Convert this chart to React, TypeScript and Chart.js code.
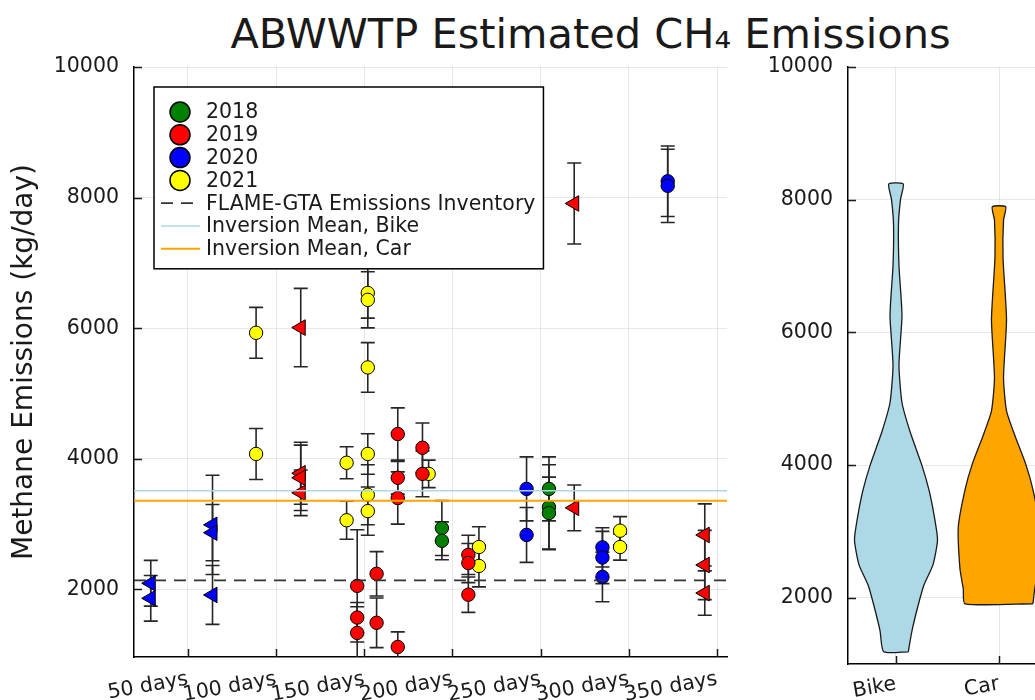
import React, { useEffect, useRef } from "react";
import { Chart, registerables } from "chart.js";

Chart.register(...registerables);

const FONT = "'DejaVu Sans', 'Liberation Sans', sans-serif";

// ---------- axes ----------
const xTickDays = [50, 100, 150, 200, 250, 300, 350];
const yTickValues = [2000, 4000, 6000, 8000, 10000];
const xLimits = [19.5, 355.6];
const yLimitsLeft = [966, 10000];
const yLimitsRight = [1000, 10000];

// ---------- scatter series (day of year, kg/day, error) ----------
const days2018 = [194, 194, 254.7, 254.7, 254.7];
const vals2018 = [2940, 2745, 3540, 3260, 3170];
const errs2018 = [420, 290, 490, 650, 550];

const days2019 = [146, 146, 146, 157, 157, 169, 169, 169, 169, 183, 183, 209, 209, 209];
const vals2019 = [2055, 1570, 1335, 2240, 1490, 4380, 3710, 3400, 1120, 4170, 3770, 2530, 2405, 1920];
const errs2019 = [860, 230, 400, 340, 380, 400, 250, 400, 230, 380, 350, 300, 300, 270];

const days2019Tri = [114, 114, 114, 114, 269, 269, 343, 343, 343];
const vals2019Tri = [6010, 3780, 3710, 3480, 7910, 3250, 2835, 2375, 1945];
const errs2019Tri = [600, 475, 500, 350, 620, 350, 475, 530, 340];

const days2020 = [242, 242, 285, 285, 285, 322, 322];
const vals2020 = [3540, 2835, 2645, 2490, 2192, 8250, 8180];
const errs2020 = [490, 420, 300, 400, 380, 540, 560];

const days2020Tri = [29, 29, 64, 64, 64];
const vals2020Tri = [2095, 1865, 2990, 2870, 1916];
const errs2020Tri = [350, 350, 760, 430, 450];

const days2021 = [88.7, 88.7, 140, 140, 152, 152, 152, 152, 152, 152, 186.5, 215, 215, 295, 295];
const vals2021 = [5930, 4075, 3940, 3060, 6540, 6435, 5400, 4075, 3450, 3200, 3770, 2650, 2360, 2900, 2650];
const errs2021 = [390, 390, 245, 290, 385, 430, 380, 310, 460, 370, 210, 310, 320, 215, 200];

// ---------- reference lines ----------
const flameInventory = 2140;
const inversionMeanBike = 3510;
const inversionMeanCar = 3360;

// ---------- violins ----------
const violinCategories = ["Bike", "Car"];
const bikeLevels = [1184, 1500, 1878, 2194, 2495, 2872, 3249, 3625, 4002, 4505, 4942, 5505, 6255, 7005, 7634, 8005, 8237];
const bikeWidths = [0.119, 0.155, 0.214, 0.272, 0.359, 0.403, 0.369, 0.32, 0.25, 0.136, 0.058, 0.029, 0.058, 0.029, 0.024, 0.044, 0.07];
const carLevels = [1908, 2134, 2435, 3068, 3625, 4002, 4440, 4816, 5316, 6192, 7129, 7694, 7893];
const carWidths = [0.33, 0.347, 0.379, 0.395, 0.33, 0.262, 0.155, 0.073, 0.044, 0.073, 0.039, 0.044, 0.065];

const pts = (xs: number[], ys: number[]) => xs.map((x, i) => ({ x, y: ys[i] }));

function violinOutline(center: number, levels: number[], widths: number[]) {
  const right = levels.map((v, i) => ({ x: center + widths[i], y: v }));
  const left = levels.map((v, i) => ({ x: center - widths[i], y: v })).reverse();
  return [...right, ...left, right[0]];
}

const errorBarPlugin = {
  id: "errorBars",
  beforeDatasetsDraw(chart: any) {
    const { ctx, chartArea, scales } = chart;
    const x = scales.x;
    const y = scales.y;
    ctx.save();
    ctx.beginPath();
    ctx.rect(chartArea.left, chartArea.top, chartArea.right - chartArea.left, chartArea.bottom - chartArea.top);
    ctx.clip();
    ctx.strokeStyle = "#262626";
    ctx.lineWidth = 1.6;
    chart.data.datasets.forEach((ds: any) => {
      if (!ds.errors) return;
      ds.data.forEach((p: any, i: number) => {
        const e = ds.errors[i];
        const px = x.getPixelForValue(p.x);
        const top = y.getPixelForValue(p.y + e);
        const bot = y.getPixelForValue(p.y - e);
        ctx.beginPath();
        ctx.moveTo(px, top);
        ctx.lineTo(px, bot);
        ctx.moveTo(px - 7, top);
        ctx.lineTo(px + 7, top);
        ctx.moveTo(px - 7, bot);
        ctx.lineTo(px + 7, bot);
        ctx.stroke();
      });
    });
    ctx.restore();
  },
};

const inwardTicksPlugin = {
  id: "inwardTicks",
  afterDatasetsDraw(chart: any) {
    const { ctx, chartArea, scales } = chart;
    ctx.save();
    ctx.strokeStyle = "#1a1a1a";
    ctx.lineWidth = 1.5;
    ctx.beginPath();
    scales.x.ticks.forEach((t: any) => {
      const px = Math.round(scales.x.getPixelForValue(t.value)) + 0.5;
      ctx.moveTo(px, chartArea.bottom);
      ctx.lineTo(px, chartArea.bottom - 8);
    });
    scales.y.ticks.forEach((t: any) => {
      const py = Math.round(scales.y.getPixelForValue(t.value)) + 0.5;
      ctx.moveTo(chartArea.left, py);
      ctx.lineTo(chartArea.left + 8, py);
    });
    ctx.stroke();
    ctx.restore();
  },
};

const legendPlugin = {
  id: "boxLegend",
  afterDraw(chart: any) {
    const { ctx, chartArea } = chart;
    const items = chart.data.datasets.filter((d: any) => d.inLegend);
    items.sort((a: any, b: any) => a.legendRank - b.legendRank);
    ctx.save();
    ctx.font = `20.5px ${FONT}`;
    const maxW = Math.max(...items.map((d: any) => ctx.measureText(d.label).width));
    const left = chartArea.left + 20;
    const top = chartArea.top + 20;
    const rowH = 22.8;
    const w = 52 + maxW + 8;
    const h = 25 + (items.length - 1) * rowH + 20;
    ctx.fillStyle = "#ffffff";
    ctx.fillRect(left, top, w, h);
    ctx.strokeStyle = "#000";
    ctx.lineWidth = 1.5;
    ctx.strokeRect(left, top, w, h);
    items.forEach((d: any, i: number) => {
      const cy = top + 25 + i * rowH;
      if (d.showLine) {
        ctx.beginPath();
        ctx.strokeStyle = d.borderColor;
        ctx.lineWidth = d.borderWidth;
        ctx.setLineDash(d.borderDash || []);
        ctx.moveTo(left + 7, cy);
        ctx.lineTo(left + 46, cy);
        ctx.stroke();
        ctx.setLineDash([]);
      } else {
        ctx.beginPath();
        ctx.arc(left + 26, cy, 10, 0, Math.PI * 2);
        ctx.fillStyle = d.backgroundColor;
        ctx.fill();
        ctx.strokeStyle = "#000";
        ctx.lineWidth = 1.5;
        ctx.stroke();
      }
      ctx.fillStyle = "#1a1a1a";
      ctx.textBaseline = "middle";
      ctx.textAlign = "left";
      ctx.fillText(d.label, left + 52, cy + 1);
    });
    ctx.restore();
  },
};

const tickFont = { family: FONT, size: 20.5 };

function pointSeries(label: string, color: string, xs: number[], ys: number[], es: number[], tri: boolean, rank: number) {
  return {
    label,
    data: pts(xs, ys),
    errors: es,
    backgroundColor: color,
    borderColor: "#000",
    borderWidth: 1,
    pointStyle: tri ? "triangle" : "circle",
    pointRadius: tri ? 9 : 6.7,
    rotation: tri ? 270 : 0,
    order: 2,
    inLegend: !tri,
    legendRank: rank,
  };
}

function hline(label: string, value: number, color: string, width: number, dash: number[] | undefined, rank: number) {
  return {
    label,
    data: [
      { x: xLimits[0], y: value },
      { x: xLimits[1], y: value },
    ],
    showLine: true,
    borderColor: color,
    borderWidth: width,
    borderDash: dash,
    pointRadius: 0,
    order: 1,
    inLegend: true,
    legendRank: rank,
  };
}

export default function App() {
  const leftRef = useRef<HTMLCanvasElement>(null);
  const rightRef = useRef<HTMLCanvasElement>(null);

  useEffect(() => {
    const left = new Chart(leftRef.current as HTMLCanvasElement, {
      type: "scatter",
      data: {
        datasets: [
          hline("FLAME-GTA Emissions Inventory", flameInventory, "#333333", 1.8, [12, 8], 4),
          hline("Inversion Mean, Bike", inversionMeanBike, "#add8e6", 1.5, undefined, 5),
          hline("Inversion Mean, Car", inversionMeanCar, "#ffa500", 2, undefined, 6),
          pointSeries("2018", "#008000", days2018, vals2018, errs2018, false, 0),
          pointSeries("2019", "#ff0000", days2019, vals2019, errs2019, false, 1),
          pointSeries("2019", "#ff0000", days2019Tri, vals2019Tri, errs2019Tri, true, 1),
          pointSeries("2020", "#0000ff", days2020, vals2020, errs2020, false, 2),
          pointSeries("2020", "#0000ff", days2020Tri, vals2020Tri, errs2020Tri, true, 2),
          pointSeries("2021", "#ffff00", days2021, vals2021, errs2021, false, 3),
        ] as any,
      },
      options: {
        animation: false,
        responsive: false,
        events: [],
        layout: { padding: { top: 67, right: 33, left: 0, bottom: 0 } },
        plugins: { legend: { display: false }, tooltip: { enabled: false } },
        scales: {
          x: {
            type: "linear",
            min: xLimits[0],
            max: xLimits[1],
            afterBuildTicks: (axis: any) => {
              axis.ticks = xTickDays.map((v) => ({ value: v }));
            },
            afterFit: (axis: any) => {
              axis.height = 43;
            },
            ticks: {
              font: tickFont,
              color: "#1a1a1a",
              minRotation: 10,
              maxRotation: 10,
              padding: 10,
              callback: (v: any) => `${v} days`,
            },
            grid: { color: "rgba(0,0,0,0.09)", drawTicks: false },
            border: { display: true, color: "#000", width: 1.5 },
          },
          y: {
            type: "linear",
            min: yLimitsLeft[0],
            max: yLimitsLeft[1],
            afterBuildTicks: (axis: any) => {
              axis.ticks = yTickValues.map((v) => ({ value: v }));
            },
            afterFit: (axis: any) => {
              axis.width = 134;
            },
            ticks: { font: tickFont, color: "#1a1a1a", padding: 15, callback: (v: any) => String(v) },
            grid: { color: "rgba(0,0,0,0.09)", drawTicks: false },
            border: { display: true, color: "#000", width: 1.5 },
            title: {
              display: true,
              text: "Methane Emissions (kg/day)",
              font: { family: FONT, size: 28 },
              color: "#1a1a1a",
              padding: { top: 8, bottom: 0 },
            },
          },
        },
      },
      plugins: [errorBarPlugin, inwardTicksPlugin, legendPlugin],
    } as any);

    const right = new Chart(rightRef.current as HTMLCanvasElement, {
      type: "scatter",
      data: {
        datasets: [
          {
            label: "Bike",
            data: violinOutline(1, bikeLevels, bikeWidths),
            showLine: true,
            fill: "shape",
            backgroundColor: "#add8e6",
            borderColor: "#1a1a1a",
            borderWidth: 1.3,
            pointRadius: 0,
            tension: 0.2,
          },
          {
            label: "Car",
            data: violinOutline(2, carLevels, carWidths),
            showLine: true,
            fill: "shape",
            backgroundColor: "#ffa500",
            borderColor: "#1a1a1a",
            borderWidth: 1.3,
            pointRadius: 0,
            tension: 0.2,
          },
        ] as any,
      },
      options: {
        animation: false,
        responsive: false,
        events: [],
        layout: { padding: { top: 67, right: 33, left: 0, bottom: 0 } },
        plugins: { legend: { display: false }, tooltip: { enabled: false } },
        scales: {
          x: {
            type: "linear",
            min: 0.534,
            max: 2.466,
            afterBuildTicks: (axis: any) => {
              axis.ticks = violinCategories.map((_, i) => ({ value: i + 1 }));
            },
            afterFit: (axis: any) => {
              axis.height = 36;
            },
            ticks: {
              font: tickFont,
              color: "#1a1a1a",
              minRotation: 10,
              maxRotation: 10,
              padding: 8,
              callback: (v: any) => violinCategories[Math.round(v) - 1] ?? "",
            },
            grid: { color: "rgba(0,0,0,0.09)", drawTicks: false },
            border: { display: true, color: "#000", width: 1.5 },
          },
          y: {
            type: "linear",
            min: yLimitsRight[0],
            max: yLimitsRight[1],
            afterBuildTicks: (axis: any) => {
              axis.ticks = yTickValues.map((v) => ({ value: v }));
            },
            afterFit: (axis: any) => {
              axis.width = 88;
            },
            ticks: { font: tickFont, color: "#1a1a1a", padding: 15, callback: (v: any) => String(v) },
            grid: { color: "rgba(0,0,0,0.09)", drawTicks: false },
            border: { display: true, color: "#000", width: 1.5 },
          },
        },
      },
      plugins: [inwardTicksPlugin],
    } as any);

    return () => {
      left.destroy();
      right.destroy();
    };
  }, []);

  return (
    <div
      style={{
        position: "absolute",
        left: 0,
        top: 0,
        width: 1035,
        height: 700,
        overflow: "hidden",
        background: "#fff",
      }}
    >
      <div
        style={{
          position: "absolute",
          left: 0,
          top: 13,
          width: 1181,
          textAlign: "center",
          fontFamily: FONT,
          fontSize: 41.5,
          lineHeight: 1,
          color: "#1a1a1a",
          whiteSpace: "nowrap",
        }}
      >
        ABWWTP Estimated CH₄ Emissions
      </div>
      <canvas ref={leftRef} width={760} height={700} style={{ position: "absolute", left: 0, top: 0 }} />
      <canvas ref={rightRef} width={320} height={700} style={{ position: "absolute", left: 760, top: 0 }} />
    </div>
  );
}
